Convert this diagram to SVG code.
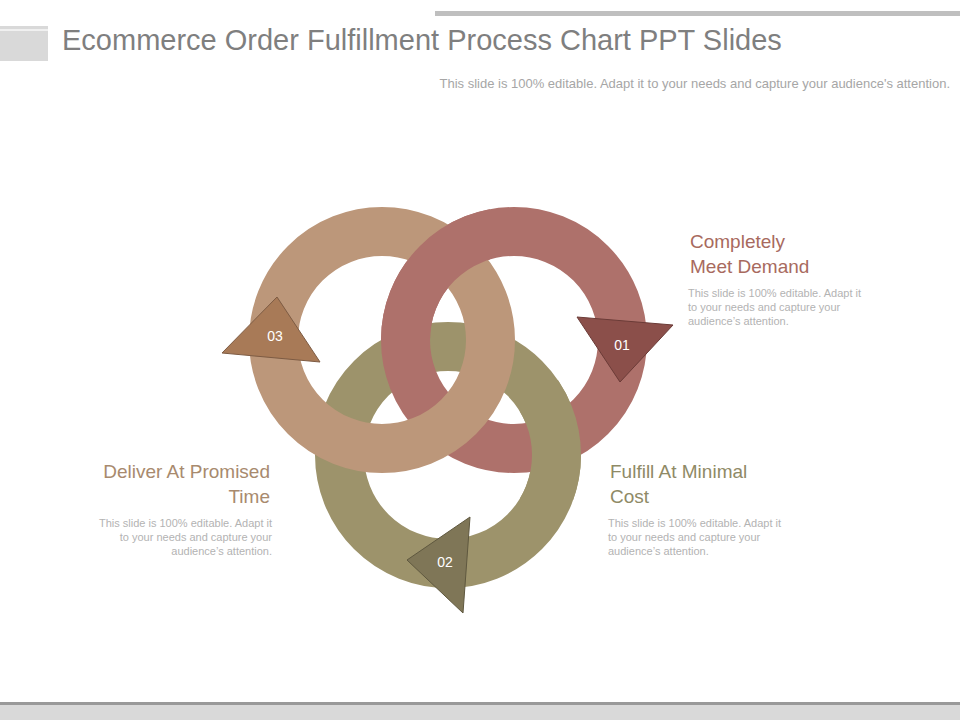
<svg xmlns="http://www.w3.org/2000/svg" width="960" height="720" viewBox="0 0 960 720">
<style>
.ring{fill:none;stroke-width:49}
.t{font-family:"Liberation Sans",Arial,sans-serif}
.h{font-size:19px}
.b{font-size:11px;fill:#b3b3b3}
.n{font-size:14px;fill:#fff;text-anchor:middle}
</style>
<defs>
<clipPath id="top"><rect x="370" y="190" width="120" height="150"/></clipPath>
<clipPath id="br"><rect x="520" y="380" width="100" height="120"/></clipPath>
</defs>
<rect width="960" height="720" fill="#fff"/>
<g id="header">
<rect x="435" y="11" width="525" height="5" fill="#bfbfbf"/>
<rect x="0" y="26" width="48" height="35" fill="#d9d9d9"/>
<rect x="0" y="29" width="48" height="2" fill="#fff" opacity="0.6"/>
<text class="t" x="62" y="50" font-size="29" fill="#7f7f7f">Ecommerce Order Fulfillment Process Chart PPT Slides</text>
<text class="t" x="950" y="88" font-size="13" fill="#a6a6a6" text-anchor="end">This slide is 100% editable. Adapt it to your needs and capture your audience's attention.</text>
</g>
<g id="rings">
<circle class="ring" cx="448" cy="455" r="108.5" stroke="#9d936b"/>
<circle class="ring" cx="514" cy="340" r="108.5" stroke="#ae716b"/>
<circle class="ring" cx="382" cy="340" r="108.5" stroke="#bc977a"/>
<circle class="ring" cx="514" cy="340" r="108.5" stroke="#ae716b" clip-path="url(#top)"/>
<circle class="ring" cx="448" cy="455" r="108.5" stroke="#9d936b" clip-path="url(#br)"/>
</g>
<g id="node03">
<polygon points="222,353 320,362 277,297" fill="#a87a57" stroke="#7d5b43" stroke-width="1"/>
<text class="t n" x="275" y="341">03</text>
</g>
<g id="node01">
<polygon points="577,317 673,325 620,382" fill="#8b4f4a" stroke="#6b3b37" stroke-width="1"/>
<text class="t n" x="622" y="350">01</text>
</g>
<g id="node02">
<polygon points="470,517 407,560 463,613" fill="#7f7657" stroke="#5f583f" stroke-width="1"/>
<text class="t n" x="445" y="567">02</text>
</g>
<g id="label01">
<text class="t h" x="690" y="248" fill="#a86a5e">Completely</text>
<text class="t h" x="690" y="273" fill="#a86a5e">Meet Demand</text>
<text class="t b" x="688" y="297">This slide is 100% editable. Adapt it</text>
<text class="t b" x="688" y="311">to your needs and capture your</text>
<text class="t b" x="688" y="325">audience’s attention.</text>
</g>
<g id="label02">
<text class="t h" x="610" y="478" fill="#8f8a66">Fulfill At Minimal</text>
<text class="t h" x="610" y="503" fill="#8f8a66">Cost</text>
<text class="t b" x="608" y="527">This slide is 100% editable. Adapt it</text>
<text class="t b" x="608" y="541">to your needs and capture your</text>
<text class="t b" x="608" y="555">audience’s attention.</text>
</g>
<g id="label03" text-anchor="end">
<text class="t h" x="270" y="478" fill="#a88a6e">Deliver At Promised</text>
<text class="t h" x="270" y="503" fill="#a88a6e">Time</text>
<text class="t b" x="272" y="527">This slide is 100% editable. Adapt it</text>
<text class="t b" x="272" y="541">to your needs and capture your</text>
<text class="t b" x="272" y="555">audience’s attention.</text>
</g>
<g id="footer">
<rect x="0" y="702" width="960" height="3" fill="#999"/>
<rect x="0" y="705" width="960" height="15" fill="#d9d9d9"/>
</g>
</svg>
